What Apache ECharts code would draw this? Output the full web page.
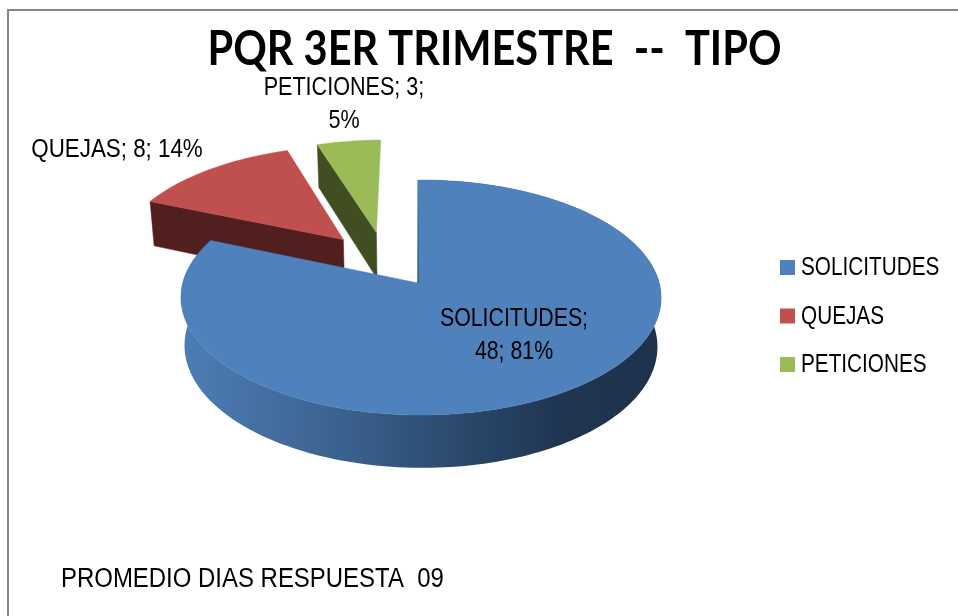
<!DOCTYPE html>
<html>
<head>
<meta charset="utf-8">
<style>
html, body { margin: 0; padding: 0; background: #fff; }
#chart { width: 958px; height: 616px; }
</style>
<script src="https://cdn.jsdelivr.net/npm/echarts@6/dist/echarts.min.js"></script>
</head>
<body>
<div id="chart"></div>
<script>
const categories = ['SOLICITUDES', 'QUEJAS', 'PETICIONES'];
const values = [48, 8, 3];
const chartTitle = 'PQR 3ER TRIMESTRE  --  TIPO';
const note = 'PROMEDIO DIAS RESPUESTA  09';

const sans = '"Liberation Sans", sans-serif';
const topColors = ['#4f81bd', '#c0504d', '#9bbb59'];
const wallColors = ['#1f3550', '#511f1d', '#404e22'];

// the 3d pie: apex of the un-exploded pie, radii, perspective, thickness
const cx = 418, cy = 283, rx = 238.2, ry = 115.7, persp = 0.1236, perspX = 0.0125, thick = 48, lower = 0.985;
// offset of each slice on the pie plane (u to the right, v to the back)
const offsets = [[0, 0], [-0.33, 0.395], [-0.185, 0.462]];
// slice labels, placed by hand like the original
const labelAt = [[514, 335.5], [117, 150], [344, 104]];
// the original font is a narrow one, not installed here, so text gets squeezed
const labelScale = [0.82, 0.86, 0.83];

const total = values.reduce((a, b) => a + b, 0);
const turn = [];
let acc = 0;
values.forEach(v => {
    turn.push([acc / total * Math.PI * 2, (acc + v) / total * Math.PI * 2]);
    acc += v;
});

const project = (u, v, low) => {
    const w = 1 / (1 + persp * v - perspX * u);
    const s = low ? lower : 1;
    return [cx + s * rx * u * w, cy + (low ? thick * w : 0) - s * ry * v * w];
};

const rimPoints = (i, low) => {
    const [a, b] = turn[i];
    const [ou, ov] = offsets[i];
    const pts = [];
    const steps = Math.ceil((b - a) * 40);
    for (let k = 0; k <= steps; k++) {
        const t = a + (b - a) * k / steps;
        pts.push(project(ou + Math.sin(t), ov + Math.cos(t), low));
    }
    return pts;
};

const labelText = i => {
    const pct = Math.round(values[i] / total * 100);
    if (i === 0) return `${categories[i]};\n${values[i]}; ${pct}%`;
    if (i === 2) return `${categories[i]}; ${values[i]};\n${pct}%`;
    return `${categories[i]}; ${values[i]}; ${pct}%`;
};

const poly = (points, fill) => ({
    type: 'polygon',
    shape: { points },
    style: { fill, stroke: fill, lineWidth: 0.5 }
});

const renderSlice = i => () => {
    const [ou, ov] = offsets[i];
    const rimTop = rimPoints(i, false);
    const rimLow = rimPoints(i, true);
    const apexTop = project(ou, ov, false);
    const apexLow = project(ou, ov, true);
    const children = [];
    // only the faces the camera can see
    if (i === 0) {
        children.push({
            type: 'polygon',
            shape: { points: rimTop.concat(rimLow.slice().reverse()) },
            style: {
                fill: {
                    type: 'linear', x: 0, y: 0, x2: 1, y2: 0,
                    colorStops: [
                        { offset: 0, color: '#4d7db6' },
                        { offset: 0.3, color: '#3d6593' },
                        { offset: 0.6, color: '#294769' },
                        { offset: 0.8, color: '#1f3551' },
                        { offset: 1, color: '#1e324c' }
                    ]
                }
            }
        });
    } else {
        children.push(poly([apexTop, rimTop[0], rimLow[0], apexLow], wallColors[i]));
    }
    children.push(poly([apexTop].concat(rimTop), topColors[i]));
    if (i === 0) {
        children.push({
            type: 'polyline',
            shape: { points: [apexTop, rimTop[0]] },
            style: {
                fill: 'none',
                lineWidth: 1,
                stroke: {
                    type: 'linear', x: 0, y: 0, x2: 0, y2: 1,
                    colorStops: [{ offset: 0, color: '#4f81bd' }, { offset: 1, color: '#1f3550' }]
                }
            }
        });
    }
    children.push({
        type: 'text',
        x: labelAt[i][0],
        y: labelAt[i][1],
        scaleX: labelScale[i],
        style: {
            text: labelText(i),
            fill: '#000',
            font: '26px ' + sans,
            align: 'center',
            verticalAlign: 'middle',
            lineHeight: 33
        }
    });
    return { type: 'group', children };
};

const chart = echarts.init(document.getElementById('chart'));
chart.setOption({
    animation: false,
    backgroundColor: '#fff',
    legend: {
        orient: 'vertical',
        left: 775,
        top: 255,
        icon: 'rect',
        itemWidth: 15,
        itemHeight: 15,
        itemGap: 33.5,
        selectedMode: false,
        data: categories,
        formatter: () => ' ',
        textStyle: { fontSize: 10 }
    },
    graphic: [
        {
            type: 'rect',
            silent: true,
            shape: { x: 8, y: 10, width: 1000, height: 700 },
            style: { fill: 'none', stroke: '#868686', lineWidth: 2 }
        },
        {
            type: 'text',
            silent: true,
            x: 494.5,
            y: 49.5,
            scaleX: 0.865,
            style: {
                text: chartTitle,
                fill: '#000',
                font: 'bold 48px Lato',
                align: 'center',
                verticalAlign: 'middle'
            }
        },
        {
            type: 'text',
            silent: true,
            x: 61,
            y: 580,
            scaleX: 0.887,
            style: {
                text: note,
                fill: '#000',
                font: '27px ' + sans,
                align: 'left',
                verticalAlign: 'middle'
            }
        }
    ].concat(categories.map((name, i) => ({
        type: 'text',
        silent: true,
        x: 801,
        y: 268.5 + i * 48.5,
        scaleX: 0.83,
        style: {
            text: name,
            fill: '#000',
            font: '25px ' + sans,
            align: 'left',
            verticalAlign: 'middle'
        }
    }))),
    // drawn back to front so the big slice covers the walls behind it
    series: [2, 1, 0].map(i => ({
        type: 'custom',
        name: categories[i],
        coordinateSystem: 'none',
        silent: true,
        itemStyle: { color: topColors[i] },
        renderItem: renderSlice(i),
        data: [values[i]]
    }))
});
</script>
</body>
</html>
